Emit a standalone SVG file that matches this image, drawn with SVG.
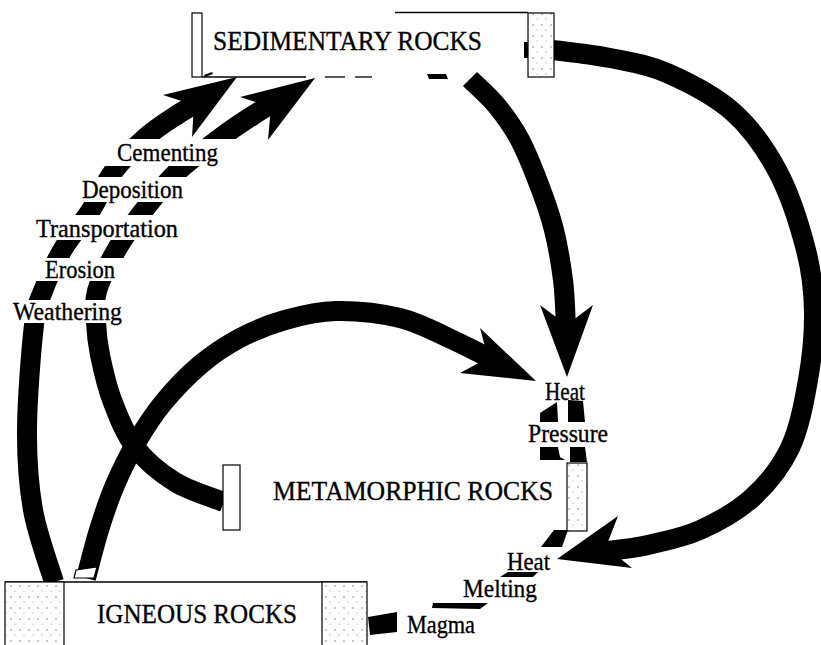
<svg xmlns="http://www.w3.org/2000/svg" width="821" height="645" viewBox="0 0 821 645">
<style>
.shaft{fill:none;stroke:#000;stroke-width:20;stroke-linecap:butt;stroke-linejoin:round}
.blk{fill:#000}
.box{fill:#fff;stroke:#000;stroke-width:1.2}
.tex{fill:url(#speck);stroke:#000;stroke-width:1.2}
.edge{stroke:#000;stroke-width:1.3;fill:none}
.t{font-family:"Liberation Serif","Times New Roman",serif;fill:#000;stroke:#000;stroke-width:0.35}
.head{font-size:27px}
.lbl{font-size:26px}
</style>
<defs>
<pattern id="speck" width="9" height="11" patternUnits="userSpaceOnUse">
<rect width="9" height="11" fill="#fff"/>
<circle cx="2" cy="3" r="0.7" fill="#666"/>
<circle cx="6" cy="8" r="0.6" fill="#888"/>
</pattern>
<mask id="gaps" maskUnits="userSpaceOnUse" x="0" y="0" width="821" height="645">
<rect width="821" height="645" fill="#fff"/>
<rect x="0" y="139" width="245" height="27" fill="#000"/>
<rect x="0" y="177" width="245" height="25" fill="#000"/>
<rect x="0" y="215" width="245" height="25" fill="#000"/>
<rect x="0" y="258" width="245" height="23" fill="#000"/>
<rect x="0" y="300" width="245" height="23" fill="#000"/>
</mask>
</defs>
<rect width="821" height="645" fill="#fff"/>

<g id="connectors">
<g mask="url(#gaps)">
<path class="shaft" d="M54,582 C50.5,570 37.5,535.3 33,510 C28.5,484.7 26.8,460.8 27,430 C27.2,399.2 31.3,348.2 34,325 C36.7,301.8 38.2,303.7 43,291 C47.8,278.3 55,262.5 63,249 C71,235.5 82.7,222.8 91,210 C99.3,197.2 104,184 113,172 C122,160 134.3,147.5 145,138 C155.7,128.5 167.3,121.3 177,115 C186.7,108.7 198.7,102.5 203,100"/>
<path class="shaft" d="M224,502 C215.8,498.7 189.8,491.2 175,482 C160.2,472.8 145.5,460.7 135,447 C124.5,433.3 117.8,415.3 112,400 C106.2,384.7 102.7,368 100,355 C97.3,342 96.5,332.7 96,322 C95.5,311.3 93.5,303.2 97,291 C100.5,278.8 109.2,262.5 117,249 C124.8,235.5 134,222.8 144,210 C154,197.2 164.3,184 177,172 C189.7,160 207.5,147.3 220,138 C232.5,128.7 242,122.5 252,116 C262,109.5 275.3,101.8 280,99"/>
</g>
<polygon class="blk" points="237,77 163,95 194,105 192,137"/>
<polygon class="blk" points="315,78 240,97 271,107 268,140"/>

<path class="shaft" d="M86,578 C88.2,570 94.2,545.5 99,530 C103.8,514.5 108.8,499.5 115,485 C121.2,470.5 128,456.7 136,443 C144,429.3 152.3,416 163,403 C173.7,390 187.2,375.8 200,365 C212.8,354.2 225.8,345.5 240,338 C254.2,330.5 269,324.5 285,320 C301,315.5 316.8,311.3 336,311 C355.2,310.7 380.5,313.2 400,318 C419.5,322.8 437.2,332.8 453,340 C468.8,347.2 488,357.5 495,361"/>
<polygon class="blk" points="536,381 480,328 488,358 460,373"/>
<polygon points="74,578 76,570 97,567 94,578" fill="#fff" stroke="#000" stroke-width="1.2"/>

<path class="shaft" d="M470,79 C474.5,83.5 488.7,95.8 497,106 C505.3,116.2 512.8,126.5 520,140 C527.2,153.5 534.3,172 540,187 C545.7,202 550.2,214.5 554,230 C557.8,245.5 561,264.2 563,280 C565,295.8 565.5,317.5 566,330"/>
<polygon class="blk" points="567,377 540,305 566.6,325 593,305"/>

<path class="shaft" d="M553,50 C562.5,51.3 591,54.2 610,58 C629,61.8 646.5,64 667,73 C687.5,82 714.5,95.5 733,112 C751.5,128.5 765.8,149 778,172 C790.2,195 800,226.7 806,250 C812,273.3 813.7,290.3 814,312 C814.3,333.7 812,357.3 808,380 C804,402.7 799.3,428.3 790,448 C780.7,467.7 767,484.3 752,498 C737,511.7 717.3,522.2 700,530 C682.7,537.8 663,541.5 648,545 C633,548.5 616.3,550 606,551"/>
<polygon class="blk" points="557,559 618,516 606,547 632,568"/>

<polygon class="blk" points="540,413 557,402 558,422 540,422"/>
<polygon class="blk" points="568,400 583,401 585,422 568,422"/>
<polygon class="blk" points="540,447 558,447 560,457 565,460 540,460"/>
<polygon class="blk" points="570,447 585,447 587,462 570,462"/>
<polygon class="blk" points="541,547 554,530 568,530 562,547"/>
<polygon class="blk" points="500,577 508,572 538,572 533,577"/>
<polygon class="blk" points="432,608 433,603 488,603 480,609"/>
<polygon class="blk" points="368,617 397,612 397,632 370,635"/>
</g>

<g id="sedimentary">
<rect class="box" x="192" y="13" width="10" height="64"/>
<rect class="tex" x="528" y="13" width="26" height="64"/>
<line class="edge" x1="395" y1="12.5" x2="528" y2="12.5"/>
<line class="edge" x1="202" y1="77" x2="306" y2="77"/>
<line class="edge" x1="325" y1="77" x2="345" y2="77"/>
<line class="edge" x1="355" y1="77" x2="372" y2="77"/>
<polygon class="blk" points="427,74 446,74 448,79 429,79"/>
<polygon class="blk" points="204,75 212,72 213,74 205,77"/>
<rect class="blk" x="524" y="42" width="4" height="16"/>
<text class="t head" x="213" y="50" textLength="269" lengthAdjust="spacingAndGlyphs">SEDIMENTARY ROCKS</text>
</g>

<g id="metamorphic">
<rect class="box" x="223" y="465" width="17" height="65"/>
<rect class="tex" x="567" y="463" width="20" height="68"/>
<text class="t head" x="273" y="500" font-size="28" textLength="280" lengthAdjust="spacingAndGlyphs">METAMORPHIC ROCKS</text>
</g>

<g id="igneous">
<line class="edge" x1="5" y1="582" x2="367" y2="582"/>
<rect class="tex" x="5" y="582" width="59" height="70"/>
<rect class="tex" x="322" y="582" width="45" height="70"/>
<text class="t head" x="97" y="623" font-size="29" textLength="200" lengthAdjust="spacingAndGlyphs">IGNEOUS ROCKS</text>
</g>

<g id="labels">
<text class="t lbl" x="117" y="161" textLength="101" lengthAdjust="spacingAndGlyphs">Cementing</text>
<text class="t lbl" x="82" y="198" textLength="101" lengthAdjust="spacingAndGlyphs">Deposition</text>
<text class="t lbl" x="36" y="237" textLength="142" lengthAdjust="spacingAndGlyphs">Transportation</text>
<text class="t lbl" x="45" y="278" textLength="70" lengthAdjust="spacingAndGlyphs">Erosion</text>
<text class="t lbl" x="13" y="320" textLength="109" lengthAdjust="spacingAndGlyphs">Weathering</text>
<text class="t lbl" x="545" y="400" font-size="24" textLength="40" lengthAdjust="spacingAndGlyphs">Heat</text>
<text class="t lbl" x="528" y="442" textLength="80" lengthAdjust="spacingAndGlyphs">Pressure</text>
<text class="t lbl" x="507" y="570" textLength="43" lengthAdjust="spacingAndGlyphs">Heat</text>
<text class="t lbl" x="463" y="597" font-size="24" textLength="74" lengthAdjust="spacingAndGlyphs">Melting</text>
<text class="t lbl" x="407" y="633" textLength="68" lengthAdjust="spacingAndGlyphs">Magma</text>
</g>
</svg>
